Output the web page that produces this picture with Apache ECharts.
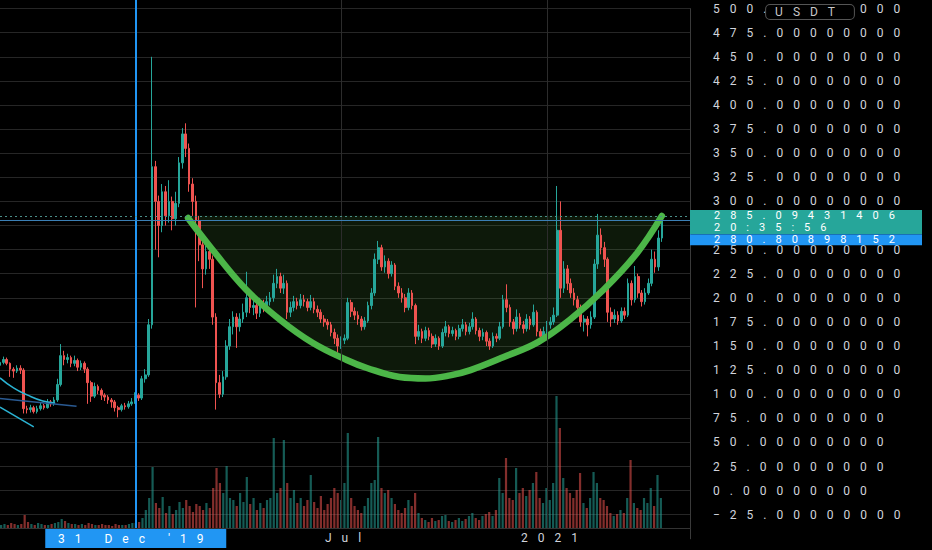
<!DOCTYPE html>
<html><head><meta charset="utf-8">
<script src="https://cdn.jsdelivr.net/npm/echarts@6/dist/echarts.min.js"></script>
<style>
html,body{margin:0;padding:0;background:#000;}
#c{width:932px;height:550px;}
#c text{letter-spacing:10px;}
</style></head><body><div id="c"></div>
<script>
// ---- data ----
const startDate = [2019, 8, 2];   // first candle (year, monthIndex, day)
const stepDays = 3;
const firstOpen = 130;
const closes = [
133,136,132,126,124,127,125,85,84,86,
82,85,88,86,92,90,94,110,140,136,
138,132,135,128,132,126,112,98,108,104,
99,97,94,92,86,84,88,87,90,92,
99,96,116,120,172,336,300,275,310,285,
300,282,298,340,370,355,318,300,280,255,
230,248,240,180,112,100,118,150,170,180,
170,178,185,200,190,192,184,194,190,196,
200,215,222,210,215,185,190,196,192,198,
196,190,196,188,185,178,175,172,164,158,
150,156,158,195,186,182,178,170,176,192,
205,240,252,232,238,225,234,212,205,200,
190,205,192,160,165,158,166,160,152,158,
150,164,170,163,166,160,168,172,165,170,
178,166,160,164,155,150,160,158,170,198,
190,175,168,180,172,168,178,172,185,165,
160,165,172,175,182,270,210,230,215,205,
198,190,175,178,172,180,235,265,252,240,
185,178,182,176,186,182,215,198,222,205,
196,205,215,240,232,262,285];
const highs = [
137,139,138,133,128,130,130,127,88,89,
88,88,91,90,95,94,97,116,152,145,
142,140,140,137,135,134,128,114,112,110,
106,101,99,96,94,88,90,91,93,96,
102,101,119,126,178,450,342,306,318,316,
322,305,310,346,376,381,360,324,306,285,
260,254,254,244,184,120,124,156,178,186,
184,184,194,227,206,198,196,200,198,202,
206,224,230,226,224,218,196,202,200,204,
203,199,203,200,192,188,182,178,175,168,
162,160,162,200,198,190,186,181,180,196,
210,246,259,255,244,241,238,236,216,210,
204,210,208,194,172,168,170,169,163,162,
160,168,176,172,170,168,172,178,175,174,
185,180,169,168,166,158,164,163,175,203,
214,193,178,188,184,176,183,181,193,187,
168,170,176,180,190,316,300,238,234,220,
210,202,193,182,181,186,240,287,272,258,
242,190,188,186,190,190,220,218,233,225,
208,210,220,250,248,270,288];
const lows = [
128,131,130,118,117,122,121,80,80,81,
80,80,83,84,85,87,88,92,108,130,
132,128,129,124,125,122,90,92,96,100,
94,93,90,86,82,76,82,84,85,88,
90,93,94,112,118,168,250,242,268,275,
278,270,275,294,334,346,310,285,190,238,
210,224,230,172,84,96,97,115,146,162,
148,165,174,180,184,182,178,180,185,186,
192,196,210,205,204,178,180,186,188,189,
191,186,187,184,180,174,170,167,160,152,
143,147,152,156,180,177,172,166,167,174,
188,202,235,228,226,220,222,208,200,195,
185,187,188,152,156,153,155,156,148,149,
146,148,160,159,160,156,157,165,161,162,
167,162,155,156,150,146,148,154,156,168,
185,170,162,165,168,163,165,167,170,160,
153,156,162,168,172,180,200,205,208,200,
192,185,170,165,160,168,178,230,245,232,
175,170,174,172,174,178,180,192,195,200,
191,193,203,212,226,228,258];
const volumes = [
3,4,3,5,4,3,4,13,6,4,
3,5,4,3,3,4,5,6,9,7,
5,4,4,3,4,3,5,4,3,3,
4,3,3,2,4,3,3,3,4,5,
5,6,10,18,30,61,25,20,31,15,
22,14,18,26,20,28,22,16,24,22,
18,25,20,40,60,45,35,62,30,28,
22,35,26,51,24,30,18,25,20,28,
30,90,35,40,88,45,30,38,25,30,
22,28,53,26,20,32,18,24,30,40,
35,28,45,95,30,22,18,15,22,30,
45,48,91,40,35,38,30,24,18,15,
20,28,22,35,15,10,8,6,10,7,
8,12,13,7,6,8,10,7,9,12,
15,10,8,12,14,16,12,18,50,35,
70,30,28,60,35,40,32,38,45,56,
30,25,40,28,45,132,100,50,40,35,
30,38,55,25,20,30,56,45,30,28,
22,15,12,14,18,15,30,68,25,20,
18,30,25,40,22,53,30];

const cupDates = ['2020-02-16','2020-03-09','2020-04-08','2020-05-08','2020-06-06','2020-07-06','2020-07-24','2020-08-22','2020-09-14','2020-10-06','2020-10-24','2020-11-22','2020-12-23','2021-01-20','2021-02-19','2021-03-21','2021-04-12'];
const cupPrices = [282.8,249.6,208.1,177.0,153.1,135.5,127.2,117.8,116.3,119.5,125.0,138.3,154.1,177.0,208.1,246.5,284.9];
const cupTop = 285.1;

const curveDates = ['2019-09-02','2019-09-14','2019-09-26','2019-10-10','2019-10-21'];
const curvePrices = [116.9,106.5,99.3,92.9,90.9];
const steepDates = ['2019-09-02','2019-10-02'];
const steepPrices = [86.7,66.0];
const flatDates = ['2019-09-02','2019-11-09'];
const flatPrices = [95.6,87.6];

const lastPrice = 285.09431406;
const lastTimer = '20:35:56';
const linePrice = 280.80898152;
const markDate = '2019-12-31';
const markDateLabel = "31 Dec '19";
const xTicks = ['2020-07-01','2021-01-01'];
const xTickLabels = ['Jul','2021'];
const xMin = '2019-09-02', xMax = '2021-05-07';
const yMin = -50, yMax = 500, yStep = 25;
const yHiddenLabels = [275];      // covered by the price boxes in the picture
const currency = 'USDT';

// ---- build ----
const UP = '#26a69a', DOWN = '#ef5350';
const candleDates = closes.map((_, i) => new Date(startDate[0], startDate[1], startDate[2] + i * stepDays).getTime());
const opens = closes.map((c, i) => i === 0 ? firstOpen : closes[i - 1]);
const candleData = closes.map((c, i) => [candleDates[i], opens[i], c, lows[i], highs[i]]);
const volData = volumes.map((v, i) => ({
  value: [candleDates[i], v],
  itemStyle: { color: closes[i] >= opens[i] ? 'rgba(38,166,154,0.55)' : 'rgba(239,83,80,0.55)' }
}));
const pairs = (d, p) => d.map((x, i) => [x, p[i]]);
const FONT = 'Roboto';

const gridMarks = xTicks.map((d, i) => ({
  xAxis: d,
  lineStyle: { color: '#2c2c2c', width: 1, type: 'solid' },
  label: { show: true, position: 'start', distance: 4, formatter: xTickLabels[i], color: '#d1d4dc', fontSize: 12, fontFamily: FONT,
    padding: [0, 0, 0, 14] }
}));
gridMarks.push({
  xAxis: markDate,
  lineStyle: { color: '#2196f3', width: 2, type: 'solid' },
  label: { show: true, position: 'start', distance: 1, formatter: markDateLabel, color: '#fff', fontSize: 12, fontFamily: FONT,
    backgroundColor: '#2196f3', width: 165, padding: [3, 8], lineHeight: 13, align: 'center' }
});

const chart = echarts.init(document.getElementById('c'), null, { renderer: 'svg', width: 932, height: 550 });
chart.setOption({
  animation: false,
  backgroundColor: '#000',
  grid: [
    { left: 0, right: 242, top: 8.6, height: 530.2 },
    { left: 0, right: 242, top: 0, bottom: 22 }
  ],
  xAxis: [
    { type: 'time', gridIndex: 0, min: xMin, max: xMax, show: false },
    { type: 'time', gridIndex: 1, min: xMin, max: xMax,
      axisLine: { show: true, lineStyle: { color: '#333' } }, axisTick: { show: false },
      axisLabel: { show: false }, splitLine: { show: false } }
  ],
  yAxis: [
    { type: 'value', gridIndex: 0, position: 'right', min: yMin, max: yMax, interval: yStep,
      axisLine: { show: true, lineStyle: { color: '#3a3a3a' } }, axisTick: { show: false },
      axisLabel: { margin: 23, color: '#d1d4dc', fontSize: 12, fontFamily: FONT, showMinLabel: false, showMaxLabel: true,
        formatter: v => yHiddenLabels.indexOf(v) >= 0 ? '' : (v < 0 ? '\u2212' + Math.abs(v).toFixed(8) : v.toFixed(8)) },
      splitLine: { show: true, showMinLine: false, showMaxLine: true, lineStyle: { color: '#262626' } } },
    { type: 'value', gridIndex: 1, min: 0, max: 528, show: false }
  ],
  series: [
    { type: 'line', name: 'cupBase', xAxisIndex: 0, yAxisIndex: 0, stack: 'cup', smooth: 0.4, symbol: 'none', silent: true, z: 1,
      data: pairs(cupDates, cupPrices), lineStyle: { opacity: 0 } },
    { type: 'line', name: 'cupFill', xAxisIndex: 0, yAxisIndex: 0, stack: 'cup', smooth: 0.4, symbol: 'none', silent: true, z: 1,
      data: cupDates.map((d, i) => [d, cupTop - cupPrices[i]]), lineStyle: { opacity: 0 },
      areaStyle: { color: 'rgba(90,180,70,0.2)' } },
    { type: 'bar', name: 'volume', xAxisIndex: 1, yAxisIndex: 1, barWidth: 2.2, silent: true, z: 2,
      data: volData,
      markLine: { silent: true, symbol: ['none', 'none'], animation: false, data: gridMarks } },
    { type: 'candlestick', name: 'price', xAxisIndex: 0, yAxisIndex: 0, barWidth: '62%', silent: true, z: 2,
      encode: { x: 0, y: [1, 2, 3, 4] },
      data: candleData,
      itemStyle: { color: UP, color0: DOWN, borderColor: UP, borderColor0: DOWN, borderWidth: 1 },
      markLine: { silent: true, symbol: ['none', 'none'], animation: false, data: [
        { yAxis: lastPrice, lineStyle: { color: '#4a8f89', type: [2, 3], width: 1 },
          label: { show: true, position: 'end', distance: 0, formatter: lastPrice.toFixed(8) + '\n' + lastTimer,
            backgroundColor: '#26a69a', color: '#fff', fontSize: 11, fontFamily: FONT, lineHeight: 12,
            padding: [0, 6, 0, 24], width: 202, align: 'left', offset: [0, 6.2] } },
        { yAxis: linePrice, lineStyle: { color: '#3b7fb5', type: 'solid', width: 1 },
          label: { show: true, position: 'end', distance: 0, formatter: linePrice.toFixed(8),
            backgroundColor: '#2196f3', color: '#fff', fontSize: 11, fontFamily: FONT, lineHeight: 11,
            padding: [0, 6, 0, 24], width: 202, align: 'left', offset: [0, 19.8] } }
      ] } },
    { type: 'line', name: 'curve', xAxisIndex: 0, yAxisIndex: 0, smooth: true, symbol: 'none', silent: true, z: 3,
      data: pairs(curveDates, curvePrices), lineStyle: { color: '#2bb3d3', width: 1.5 } },
    { type: 'line', name: 'steep', xAxisIndex: 0, yAxisIndex: 0, symbol: 'none', silent: true, z: 3,
      data: pairs(steepDates, steepPrices), lineStyle: { color: '#2bb3d3', width: 1.5 } },
    { type: 'line', name: 'flat', xAxisIndex: 0, yAxisIndex: 0, symbol: 'none', silent: true, z: 3,
      data: pairs(flatDates, flatPrices), lineStyle: { color: '#2a5a92', width: 1.5 } },
    { type: 'line', name: 'cupLine', xAxisIndex: 0, yAxisIndex: 0, smooth: 0.4, symbol: 'none', silent: true, z: 4,
      data: pairs(cupDates, cupPrices), lineStyle: { color: '#4cb648', width: 6.5, cap: 'round' } }
  ],
  graphic: [
    { type: 'text', x: 810, y: 12, z: 100,
      style: { text: currency, fill: '#c8c8c8', font: '12px Roboto', align: 'center', verticalAlign: 'middle',
        textAlign: 'center', textVerticalAlign: 'middle',
        backgroundColor: '#000', borderColor: '#555', borderWidth: 1, borderRadius: 4, padding: [1, 29, 1, 29] } }
  ]
});
</script></body></html>
